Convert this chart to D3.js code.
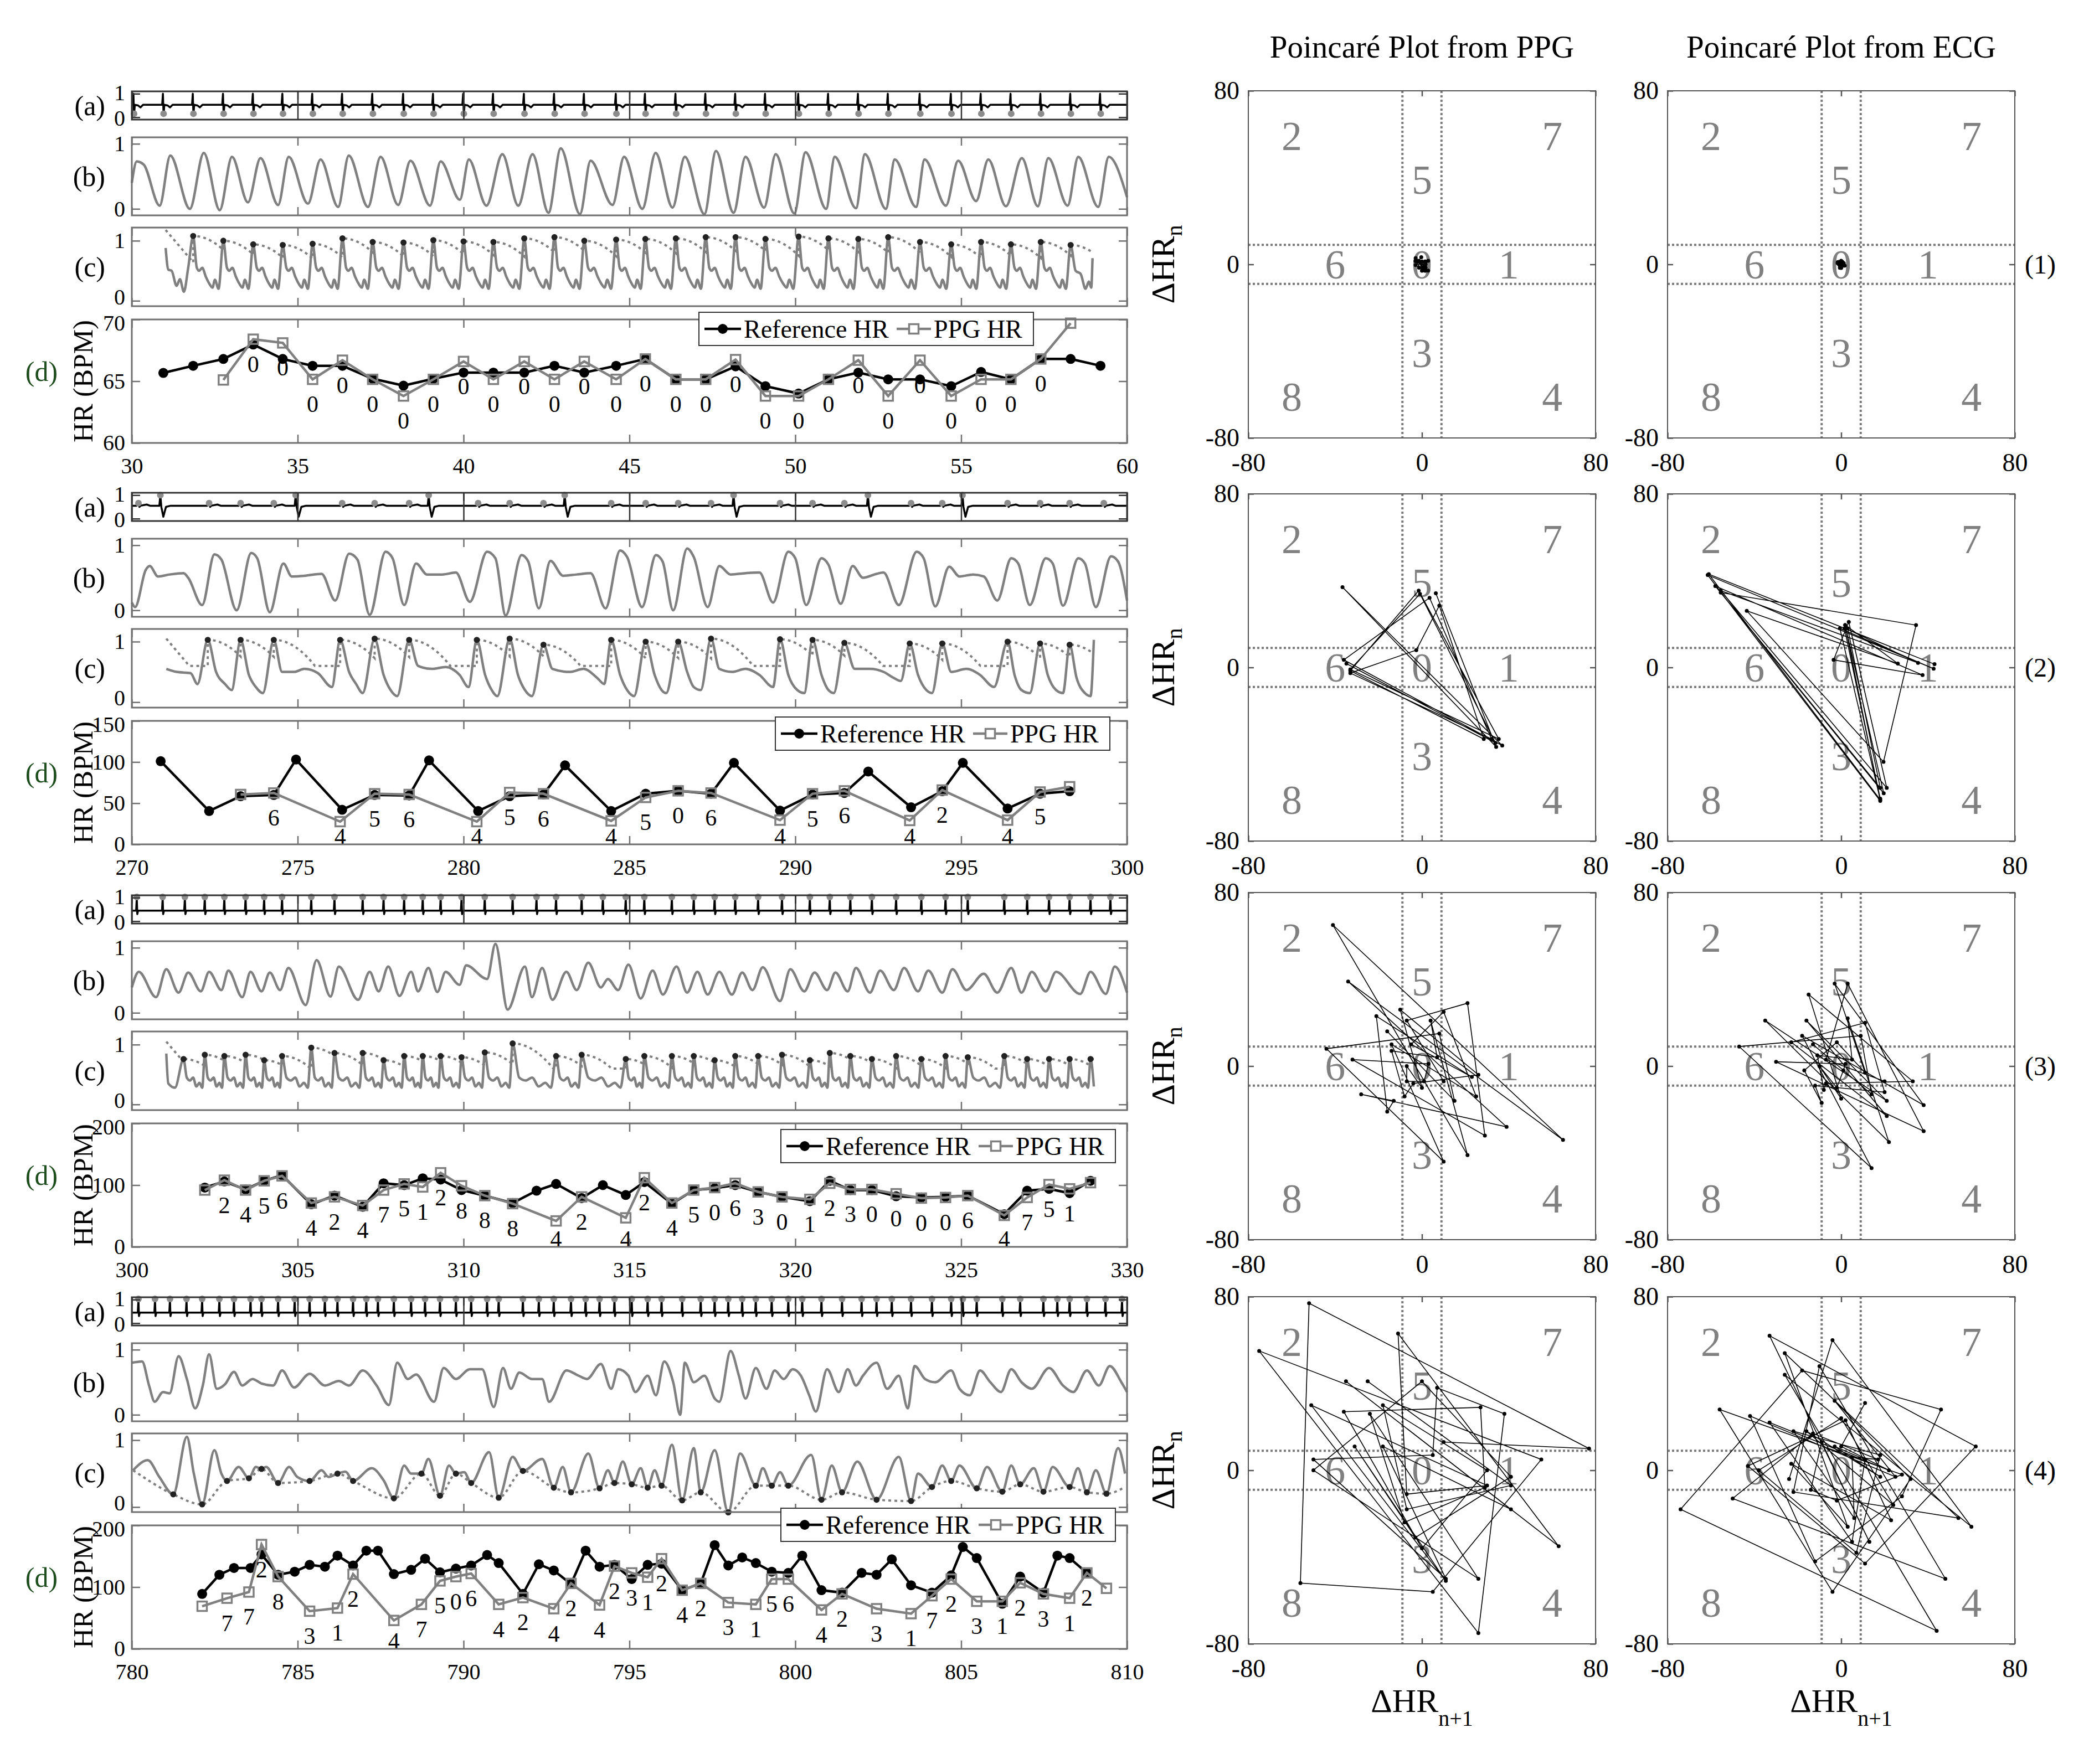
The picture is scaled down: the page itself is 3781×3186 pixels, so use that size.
<!DOCTYPE html>
<html>
<head>
<meta charset="utf-8">
<title>PPG / ECG heart rate and Poincaré plots</title>
<script src="https://cdn.jsdelivr.net/npm/d3@7/dist/d3.min.js"></script>
<style>
  body { margin: 0; background: #fff; }
  text, .tick text { font-family: "Liberation Serif", "Times New Roman", serif; }
</style>
</head>
<body>
<svg id="chart" width="3781" height="3186"></svg>
<script>
// ---------------- axes data ----------------
const timeDom = [[30, 60], [270, 300], [300, 330], [780, 810]];
const timeTicks = [[30, 35, 40, 45, 50, 55, 60], [270, 275, 280, 285, 290, 295, 300],
                   [300, 305, 310, 315, 320, 325, 330], [780, 785, 790, 795, 800, 805, 810]];
const hrDom = [[60, 70], [0, 150], [0, 200], [0, 200]];
const hrTicks = [[60, 65, 70], [0, 50, 100, 150], [0, 100, 200], [0, 100, 200]];
const unitTicks = [0, 1];
const deltaTicks = [-80, 0, 80];
const regionNames = ['2', '7', '5', '6', '0', '1', '3', '8', '4'];
const regionPos = [[-60, 59], [60, 59], [0, 39], [-40, 0], [0, 0], [40, 0], [0, -41], [-60, -61], [60, -61]];
const zoneBand = 9;

// ---------------- segment (1): 30-60 s ----------------
const refT1 = [30.95, 31.85, 32.76, 33.66, 34.55, 35.45, 36.35, 37.26, 38.19, 39.09, 40.0, 40.9, 41.83, 42.74, 43.64, 44.6,
  45.48, 46.4, 47.3, 48.2, 49.1, 50.1, 51.0, 51.9, 52.8, 53.76, 54.7, 55.6, 56.5, 57.4, 58.3, 59.2];
const refHR1 = [65.67, 66.25, 66.8, 67.97, 66.8, 66.25, 66.25, 65.2, 64.64, 65.2, 65.7, 65.7, 65.7, 66.25, 65.7, 66.25,
  66.8, 65.15, 65.15, 66.2, 64.6, 64.0, 65.15, 65.7, 65.15, 65.15, 64.6, 65.75, 65.15, 66.8, 66.8, 66.25];
const ppgT1 = [32.76, 33.66, 34.55, 35.45, 36.35, 37.26, 38.19, 39.09, 40.0, 40.9, 41.83, 42.74, 43.64, 44.6, 45.48, 46.4,
  47.3, 48.2, 49.1, 50.1, 51.0, 51.9, 52.8, 53.76, 54.7, 55.6, 56.5, 57.4, 58.3];
const ppgHR1 = [65.1, 68.4, 68.1, 65.15, 66.7, 65.15, 63.8, 65.15, 66.6, 65.15, 66.6, 65.15, 66.6, 65.15, 66.8, 65.15,
  65.15, 66.75, 63.8, 63.8, 65.15, 66.7, 63.8, 66.7, 63.8, 65.15, 65.15, 66.8, 69.7];
const region1 = ['', '0', '0', '0', '0', '0', '0', '0', '0', '0', '0', '0', '0', '0', '0', '0', '0', '0', '0', '0', '0',
  '0', '0', '0', '0', '0', '0', '0', ''];
const ecgR1 = [30.06].concat(refT1);
const ppgB1 = [[30.0, 0.4], [30.15, 0.73], [30.36, 0.68], [30.84, 0.05], [31.16, 0.82], [31.75, 0.0], [32.17, 0.86],
  [32.65, -0.02], [33.02, 0.8], [33.5, 0.1], [33.88, 0.78], [34.41, 0.06], [34.73, 0.8], [35.31, 0.08], [35.69, 0.76],
  [36.22, 0.03], [36.54, 0.82], [37.12, 0.03], [37.5, 0.8], [38.03, 0.06], [38.4, 0.74], [38.99, 0.05], [39.31, 0.73],
  [39.89, 0.14], [40.16, 0.76], [40.69, 0.05], [41.17, 0.84], [41.65, 0.05], [42.08, 0.84], [42.56, -0.06], [42.93, 0.93],
  [43.51, -0.08], [43.83, 0.74], [44.49, 0.06], [44.84, 0.8], [45.39, 0.0], [45.79, 0.86], [46.3, 0.02], [46.67, 0.8],
  [47.26, -0.08], [47.61, 0.89], [48.14, -0.06], [48.5, 0.8], [49.06, 0.02], [49.41, 0.84], [49.97, -0.07], [50.31, 0.87],
  [50.93, 0.0], [51.19, 0.8], [51.83, 0.01], [52.1, 0.84], [52.73, 0.0], [53.0, 0.76], [53.64, 0.03], [53.9, 0.76],
  [54.54, 0.05], [54.91, 0.74], [55.45, 0.12], [55.82, 0.76], [56.35, 0.04], [56.83, 0.78], [57.31, 0.04], [57.63, 0.78],
  [58.21, 0.05], [58.53, 0.8], [59.13, 0.03], [59.45, 0.8], [60.0, 0.18]];
const cPk1 = [1.08, 1.0, 0.94, 0.93, 0.95, 1.04, 0.98, 0.97, 1.01, 0.99, 0.98, 1.04, 1.06, 1.0, 1.02, 1.03, 1.04, 1.06,
  1.06, 1.03, 1.07, 1.04, 1.03, 1.06, 0.98, 0.94, 0.98, 0.94, 0.98, 0.93];
const cShape1 = [[0.12, 0.55], [0.2, 0.5], [0.3, 0.55], [0.42, 0.4], [0.54, 0.28], [0.64, 0.22], [0.72, 0.35], [0.84, 0.2]];
const cLead1 = [[31.02, 0.88], [31.1, 0.52], [31.2, 0.5], [31.35, 0.25], [31.45, 0.36], [31.57, 0.15], [31.7, 0.55]];
const cTail1 = [[58.45, 0.5], [58.6, 0.45], [58.75, 0.2], [58.85, 0.32], [58.92, 0.22], [58.96, 0.71]];

// ---------------- segment (2): 270-300 s ----------------
const refT2 = [270.87, 272.33, 273.28, 274.28, 274.95, 276.34, 277.32, 278.36, 278.96, 280.44, 281.39, 282.41, 283.06,
  284.45, 285.49, 286.47, 287.46, 288.15, 289.54, 290.52, 291.48, 292.2, 293.49, 294.43, 295.05, 296.4, 297.38, 298.27];
const refHR2 = [101, 40.5, 58.5, 60, 103, 42, 60, 59.4, 102, 40.5, 58.5, 60.6, 96, 40.5, 61.5, 65, 61.5, 99, 41, 60.6,
  62.4, 88.5, 45, 64.5, 99, 43.5, 61.5, 64.5];
const ppgT2 = [273.28, 274.28, 276.28, 277.32, 278.36, 280.4, 281.39, 282.41, 284.45, 285.49, 286.47, 287.46, 289.54,
  290.52, 291.48, 293.45, 294.43, 296.4, 297.38, 298.27];
const ppgHR2 = [60.6, 62.4, 27.6, 61.5, 60.6, 27.6, 63, 61.5, 28.5, 57, 65, 62.4, 29.4, 61.5, 65, 29, 66, 29.4, 63.6, 70];
const region2 = ['', '6', '4', '5', '6', '4', '5', '6', '4', '5', '0', '6', '4', '5', '6', '4', '2', '4', '5', ''];
const ecgR2 = [270.2].concat(refT2, [299.3]);
const ecgTall2 = [270.87, 274.95, 278.96, 283.06, 288.15, 292.2, 295.05];
const ppgB2 = [[270.0, 0.12], [270.1, 0.05], [270.42, 0.62], [270.54, 0.68], [270.79, 0.52], [271.14, 0.55], [271.56, 0.57],
  [271.7, 0.5], [272.12, 0.08], [272.49, 0.86], [272.7, 0.78], [273.16, 0.0], [273.6, 0.88], [273.78, 0.8], [274.16, -0.03],
  [274.57, 0.72], [274.82, 0.52], [275.2, 0.53], [275.72, 0.56], [276.13, 0.15], [276.55, 0.87], [276.8, 0.78],
  [277.17, -0.07], [277.65, 0.9], [277.86, 0.8], [278.21, 0.08], [278.57, 0.72], [278.9, 0.55], [279.36, 0.55],
  [279.77, 0.58], [280.19, 0.13], [280.71, 0.9], [280.96, 0.8], [281.27, -0.08], [281.75, 0.85], [281.95, 0.75],
  [282.27, 0.03], [282.62, 0.76], [283.0, 0.53], [283.41, 0.55], [283.83, 0.57], [284.28, 0.03], [284.72, 0.92],
  [284.93, 0.82], [285.38, 0.05], [285.8, 0.85], [286.0, 0.75], [286.32, 0.0], [286.74, 0.95], [286.94, 0.82],
  [287.36, 0.05], [287.71, 0.68], [288.05, 0.55], [288.5, 0.57], [288.92, 0.58], [289.33, 0.12], [289.79, 0.9],
  [290.0, 0.8], [290.33, 0.08], [290.79, 0.8], [291.0, 0.7], [291.37, 0.1], [291.73, 0.68], [292.04, 0.5], [292.45, 0.56],
  [292.66, 0.58], [293.12, 0.08], [293.66, 0.9], [293.87, 0.8], [294.22, 0.06], [294.64, 0.67], [294.95, 0.52],
  [295.36, 0.55], [295.68, 0.52], [296.09, 0.15], [296.51, 0.8], [296.72, 0.72], [297.07, 0.08], [297.55, 0.8],
  [297.76, 0.72], [298.07, 0.07], [298.53, 0.8], [298.73, 0.72], [299.06, 0.05], [299.52, 0.83], [299.73, 0.75], [300.0, 0.15]];
const cPk2 = [1.03, 1.03, 1.03, 1.03, 1.05, 1.03, 1.03, 1.05, 0.95, 1.03, 1.0, 1.0, 1.05, 1.04, 1.03, 0.98, 0.97, 0.97,
  1.0, 0.97, 0.95];
const cMid2 = [[271.04, 0.55], [271.35, 0.5], [271.77, 0.48], [271.98, 0.3], [272.54, 0.5], [272.81, 0.3], [273.01, 0.2],
  [273.53, 0.45], [273.74, 0.25], [273.95, 0.15], [274.53, 0.5], [274.89, 0.5], [275.2, 0.55], [275.61, 0.48],
  [276.03, 0.25], [276.55, 0.5], [276.76, 0.3], [276.96, 0.15], [277.59, 0.45], [277.8, 0.2], [278.0, 0.1], [278.63, 0.6],
  [279.04, 0.55], [279.46, 0.58], [279.88, 0.45], [280.15, 0.25], [280.65, 0.45], [280.85, 0.2], [281.02, 0.1],
  [281.64, 0.45], [281.85, 0.2], [282.06, 0.1], [282.68, 0.55], [283.2, 0.5], [283.62, 0.55], [284.03, 0.4], [284.24, 0.3],
  [284.72, 0.45], [284.93, 0.2], [285.14, 0.1], [285.76, 0.45], [285.97, 0.2], [286.11, 0.15], [286.74, 0.5],
  [286.94, 0.25], [287.15, 0.2], [287.71, 0.55], [288.09, 0.5], [288.5, 0.55], [288.92, 0.45], [289.33, 0.25],
  [289.79, 0.45], [290.06, 0.2], [290.27, 0.15], [290.79, 0.45], [291.0, 0.2], [291.16, 0.15], [291.79, 0.55],
  [292.25, 0.55], [292.66, 0.5], [292.97, 0.4], [293.18, 0.35], [293.7, 0.45], [293.95, 0.2], [294.12, 0.15],
  [294.7, 0.5], [295.16, 0.55], [295.57, 0.45], [295.99, 0.25], [296.61, 0.45], [296.82, 0.2], [297.07, 0.15],
  [297.61, 0.45], [297.86, 0.2], [298.07, 0.15], [298.48, 0.4], [298.73, 0.15], [298.9, 0.1], [299.0, 1.03]];

// ---------------- segment (3): 300-330 s ----------------
const refT3 = [302.2, 302.79, 303.43, 303.99, 304.53, 305.41, 306.11, 306.96, 307.59, 308.21, 308.77, 309.31, 309.94,
  310.64, 311.48, 312.2, 312.79, 313.56, 314.2, 314.89, 315.45, 316.28, 316.94, 317.57, 318.19, 318.88, 319.6, 320.44,
  321.04, 321.66, 322.31, 323.04, 323.8, 324.53, 325.2, 326.3, 326.99, 327.65, 328.27, 328.9];
const refHR3 = [96, 106, 93, 107, 116, 69, 83, 65, 103, 100, 111, 109, 92, 83, 71, 91, 102, 79, 100, 84, 105, 70, 92, 95,
  100, 89, 81, 74, 107, 92, 92, 82, 80, 81, 83, 53, 91, 94, 87, 107];
const ppgT3 = [302.2, 302.79, 303.43, 303.99, 304.53, 305.41, 306.11, 306.96, 307.59, 308.21, 308.77, 309.31, 309.94,
  310.64, 311.48, 312.79, 313.56, 314.89, 315.45, 316.28, 316.94, 317.57, 318.19, 318.88, 319.6, 320.44, 321.04, 321.66,
  322.31, 323.04, 323.8, 324.53, 325.2, 326.3, 326.99, 327.65, 328.27, 328.9];
const ppgHR3 = [92, 108, 92, 107, 115, 71, 81, 67, 92, 102, 97, 120, 99, 83, 70, 42, 81, 47, 112, 71, 92, 96, 103, 89, 81,
  77, 103, 93, 93, 86, 79, 80, 83, 51, 80, 101, 94, 104];
const region3 = ['', '2', '4', '5', '6', '4', '2', '4', '7', '5', '1', '2', '8', '8', '8', '4', '2', '4', '2', '4', '5',
  '0', '6', '3', '0', '1', '2', '3', '0', '0', '0', '0', '6', '4', '7', '5', '1', ''];
const ecgR3 = [300.15, 300.93, 301.6].concat(refT3, [329.5]);
const ppgB3 = [[300.0, 0.39], [300.21, 0.63], [300.73, 0.24], [301.04, 0.67], [301.41, 0.31], [301.7, 0.62], [302.08, 0.33],
  [302.33, 0.63], [302.7, 0.35], [302.91, 0.65], [303.33, 0.24], [303.58, 0.63], [303.91, 0.33], [304.16, 0.62],
  [304.47, 0.35], [304.72, 0.69], [305.24, 0.12], [305.57, 0.81], [305.99, 0.25], [306.24, 0.71], [306.82, 0.2],
  [307.17, 0.63], [307.44, 0.33], [307.73, 0.71], [308.07, 0.26], [308.42, 0.63], [308.63, 0.33], [308.94, 0.69],
  [309.21, 0.32], [309.46, 0.63], [309.88, 0.43], [310.08, 0.73], [310.71, 0.52], [310.96, 1.06], [311.33, 0.05],
  [311.85, 0.71], [312.06, 0.24], [312.37, 0.69], [312.68, 0.2], [313.1, 0.63], [313.41, 0.35], [313.76, 0.77],
  [314.14, 0.39], [314.35, 0.52], [314.66, 0.35], [314.97, 0.74], [315.34, 0.22], [315.7, 0.65], [316.01, 0.28],
  [316.42, 0.71], [316.74, 0.31], [317.05, 0.63], [317.36, 0.28], [317.71, 0.63], [318.09, 0.28], [318.4, 0.62],
  [318.71, 0.35], [319.02, 0.7], [319.54, 0.18], [319.85, 0.67], [320.27, 0.33], [320.58, 0.62], [320.96, 0.35],
  [321.21, 0.62], [321.58, 0.33], [321.83, 0.69], [322.25, 0.31], [322.56, 0.65], [322.97, 0.35], [323.28, 0.69],
  [323.7, 0.33], [324.01, 0.65], [324.43, 0.31], [324.74, 0.67], [325.16, 0.35], [325.68, 0.6], [326.09, 0.31],
  [326.51, 0.69], [326.82, 0.31], [327.13, 0.63], [327.55, 0.33], [327.86, 0.63], [328.59, 0.29], [328.9, 0.63],
  [329.36, 0.29], [329.63, 0.71], [330.0, 0.31]];
const cPk3 = [0.76, 0.83, 0.81, 0.83, 0.74, 0.81, 0.95, 0.86, 0.86, 0.74, 0.81, 0.81, 0.81, 0.79, 0.87, 1.02, 0.81, 0.83,
  0.76, 0.81, 0.81, 0.81, 0.74, 0.81, 0.81, 0.83, 0.74, 0.86, 0.81, 0.76, 0.81, 0.76, 0.81, 0.79, 0.81, 0.76, 0.76, 0.76, 0.76];
const cShape3 = [[0.15, 0.45], [0.3, 0.4], [0.45, 0.45], [0.6, 0.3], [0.75, 0.36], [0.88, 0.28]];
const cLead3 = [[301.04, 0.85], [301.1, 0.35], [301.3, 0.28]];
const cTail3 = [[329.0, 0.3]];

// ---------------- segment (4): 780-810 s ----------------
const refT4 = [782.12, 782.64, 783.08, 783.58, 783.91, 784.41, 784.91, 785.36, 785.82, 786.2, 786.67, 787.07, 787.42,
  787.9, 788.42, 788.84, 789.29, 789.77, 790.23, 790.71, 791.06, 791.79, 792.27, 792.72, 793.24, 793.68, 794.1, 794.55,
  795.07, 795.55, 795.97, 796.59, 797.15, 797.57, 797.98, 798.4, 798.81, 799.29, 799.79, 800.21, 800.79, 801.41, 802.0,
  802.45, 802.91, 803.49, 804.12, 804.7, 805.05, 805.47, 806.24, 806.78, 807.48, 807.9, 808.27, 808.79];
const refHR4 = [89, 120, 131, 131, 153, 120, 125, 136, 133, 151, 135, 159, 159, 121, 128, 146, 124, 130, 135, 152, 139, 89,
  137, 127, 105, 159, 133, 136, 113, 136, 138, 95, 106, 168, 135, 148, 139, 125, 123, 151, 95, 91, 123, 120, 145, 103, 91,
  119, 165, 147, 73, 117, 91, 151, 147, 123];
const ppgT4 = [782.12, 782.87, 783.53, 783.91, 784.41, 785.36, 786.2, 786.67, 787.9, 788.73, 789.29, 789.77, 790.23,
  791.06, 791.79, 792.72, 793.24, 794.1, 794.55, 795.07, 795.55, 795.97, 796.59, 797.15, 797.98, 798.81, 799.29, 799.79,
  800.79, 801.41, 802.45, 803.49, 804.12, 804.7, 805.47, 806.24, 806.78, 807.48, 808.27, 808.79, 809.38];
const ppgHR4 = [69, 82, 92, 169, 117, 61, 66, 121, 46, 72, 110, 117, 122, 72, 83, 65, 106, 71, 134, 123, 116, 146, 95, 106,
  75, 72, 113, 113, 63, 89, 65, 57, 86, 113, 77, 77, 107, 89, 82, 123, 98];
const region4 = ['', '7', '7', '2', '8', '3', '1', '2', '4', '7', '5', '0', '6', '4', '2', '4', '2', '4', '2', '3', '1',
  '2', '4', '2', '3', '1', '5', '6', '4', '2', '3', '1', '7', '2', '3', '1', '2', '3', '1', '2', ''];
const ecgR4 = [780.2, 780.7, 781.15, 781.65].concat(refT4, [809.35, 809.85]);
const ppgB4 = [[780.0, 0.8], [780.31, 0.82], [780.52, 0.45], [780.69, 0.2], [780.94, 0.35], [781.14, 0.33], [781.41, 0.9],
  [781.66, 0.55], [781.91, 0.1], [782.14, 0.45], [782.33, 0.93], [782.56, 0.4], [782.81, 0.47], [783.08, 0.66],
  [783.33, 0.45], [783.64, 0.55], [783.91, 0.48], [784.26, 0.45], [784.53, 0.68], [784.89, 0.42], [785.36, 0.63],
  [785.82, 0.45], [786.24, 0.52], [786.55, 0.45], [786.96, 0.68], [787.38, 0.45], [787.75, 0.15], [788.0, 0.8],
  [788.32, 0.55], [788.57, 0.62], [789.11, 0.2], [789.4, 0.72], [789.77, 0.55], [790.19, 0.7], [790.56, 0.7],
  [790.91, 0.12], [791.19, 0.72], [791.43, 0.4], [791.68, 0.65], [792.06, 0.55], [792.37, 0.55], [792.58, 0.2],
  [793.1, 0.68], [793.47, 0.6], [793.72, 0.55], [794.14, 0.78], [794.45, 0.4], [794.66, 0.7], [794.97, 0.6],
  [795.18, 0.35], [795.55, 0.6], [795.8, 0.3], [796.05, 0.82], [796.32, 0.5], [796.53, 0.0], [796.67, 0.8], [796.94, 0.5],
  [797.26, 0.6], [797.57, 0.25], [797.71, 0.2], [798.05, 0.98], [798.3, 0.6], [798.5, 0.25], [798.81, 0.72],
  [799.13, 0.4], [799.38, 0.68], [799.65, 0.55], [799.92, 0.7], [800.17, 0.6], [800.42, 0.3], [800.62, 0.05],
  [800.96, 0.7], [801.31, 0.35], [801.58, 0.7], [801.83, 0.45], [802.04, 0.6], [802.45, 0.8], [802.77, 0.4],
  [803.12, 0.6], [803.39, 0.1], [803.6, 0.75], [803.91, 0.55], [804.22, 0.5], [804.7, 0.68], [804.95, 0.4],
  [805.26, 0.3], [805.57, 0.68], [805.88, 0.5], [806.2, 0.35], [806.51, 0.7], [806.82, 0.5], [807.13, 0.4],
  [807.65, 0.72], [808.07, 0.45], [808.38, 0.35], [808.79, 0.68], [809.15, 0.45], [809.48, 0.75], [809.83, 0.5], [810.0, 0.35]];
const cDot4 = [0.19, 0.04, 0.39, 0.43, 0.57, 0.36, 0.39, 0.5, 0.39, 0.13, 0.5, 0.17, 0.5, 0.36, 0.14, 0.54, 0.29, 0.22,
  0.28, 0.36, 0.34, 0.29, 0.32, 0.1, 0.22, -0.08, 0.32, 0.32, 0.32, 0.11, 0.22, 0.11, 0.09, 0.3, 0.39, 0.28, 0.23, 0.34,
  0.23, 0.3, 0.22, 0.2];
const cMid4 = [[780.04, 0.55], [780.48, 0.7], [780.83, 0.45], [781.66, 1.05], [781.87, 0.5], [782.49, 0.85], [782.7, 0.5],
  [783.22, 0.6], [783.74, 0.6], [784.05, 0.6], [784.74, 0.6], [784.99, 0.45], [785.72, 0.55], [785.93, 0.45],
  [786.44, 0.53], [787.23, 0.58], [787.59, 0.4], [788.21, 0.62], [788.42, 0.5], [788.94, 0.72], [789.56, 0.62],
  [790.02, 0.52], [790.77, 0.82], [791.48, 0.75], [792.37, 0.72], [792.99, 0.6], [793.76, 0.8], [794.35, 0.55],
  [794.8, 0.68], [795.34, 0.58], [795.76, 0.55], [796.28, 0.93], [796.94, 0.88], [797.57, 0.85], [798.34, 0.8],
  [799.02, 0.58], [799.54, 0.52], [800.48, 0.78], [801.1, 0.62], [801.87, 0.68], [803.12, 0.75], [803.7, 0.5],
  [804.43, 0.62], [804.95, 0.62], [805.78, 0.6], [806.51, 0.62], [807.19, 0.58], [807.76, 0.6], [808.52, 0.58],
  [809.06, 0.55], [809.73, 0.88], [809.94, 0.5]];

// first detected beat of each processed PPG trace, and where its dotted threshold starts / ends
const cFirstBeat = [31.85, 272.29, 301.56, 781.25];
const envStart = [[31.02, 1.18], [271.04, 1.05], [301.04, 1.05], [780.04, 0.55]];
const envEnd = [58.96, 299.0, 329.0, 809.94];

// ---------------- layout / style ----------------
const svg = d3.select('#chart');
const GREY = '#808080', AX = '#707070';
const X0 = 238, X1 = 2035;
const groupTop = [165, 890, 1617, 2343];
const panelBox = { a: [0, 51], b: [83, 224], c: [246, 388], d: [412, 635] };
const legendPos = [[1262, 564], [1400, 1295], [1410, 2040], [1410, 2724]];
const pX = [2254, 3011], pTop = [164, 892, 1612, 2342], pS = 627;

// ECG beat shapes (time offset from R peak, normalised amplitude)
const ecgShape = {
  down: [[-0.035, 0.53], [-0.012, 1.0], [0.008, 0.06], [0.03, 0.53], [0.13, 0.5], [0.2, 0.42], [0.28, 0.53]],
  tall: [[-0.04, 0.55], [-0.01, 1.0], [0.02, 0.5], [0.08, 0.08], [0.16, 0.5], [0.3, 0.55]],
  small: [[-0.06, 0.55], [-0.02, 0.62], [0, 0.66], [0.03, 0.5], [0.06, 0.55], [0.25, 0.6], [0.35, 0.55]],
  up: [[-0.02, 0.45], [0, 1.0], [0.015, 0.3], [0.04, 0.45]]
};
const ecgMark = { down: [0.008, 0.15], tall: [-0.01, 1.0], small: [0, 0.66], up: [0, 1.03] };
const ecgBase = [0.53, 0.55, 0.45, 0.45];

const groups = [
  { ecgR: ecgR1, kind: () => 'down', ppgB: ppgB1, refT: refT1, refHR: refHR1, ppgT: ppgT1, ppgHR: ppgHR1, region: region1,
    cT: [cFirstBeat[0]].concat(ppgT1), cV: cPk1, shape: cShape1, lead: cLead1, tail: cTail1, cDom: [-0.09, 1.22] },
  { ecgR: ecgR2, kind: r => ecgTall2.includes(r) ? 'tall' : 'small', ppgB: ppgB2, refT: refT2, refHR: refHR2, ppgT: ppgT2,
    ppgHR: ppgHR2, region: region2, cT: [cFirstBeat[1]].concat(ppgT2), cV: cPk2, mid: cMid2, cDom: [-0.09, 1.21] },
  { ecgR: ecgR3, kind: () => 'up', ppgB: ppgB3, refT: refT3, refHR: refHR3, ppgT: ppgT3, ppgHR: ppgHR3, region: region3,
    cT: [cFirstBeat[2]].concat(ppgT3), cV: cPk3, shape: cShape3, lead: cLead3, tail: cTail3, cDom: [-0.095, 1.22] },
  { ecgR: ecgR4, kind: () => 'up', ppgB: ppgB4, refT: refT4, refHR: refHR4, ppgT: ppgT4, ppgHR: ppgHR4, region: region4,
    cT: [cFirstBeat[3]].concat(ppgT4), cV: cDot4, mid: cMid4, lower: true, cDom: [-0.075, 1.1] }
];

function addAxes(x, y, xt, yt, o) {
  const [b, t] = y.range(), [l, r] = x.range();
  const g = svg.append('g');
  g.append('g').attr('transform', `translate(0,${b})`)
    .call(d3.axisBottom(x).tickValues(xt).tickSize(-(o.fullX ? b - t : o.tl)).tickPadding(o.xpad || 27)
      .tickFormat(o.xlab ? (d => String(d)) : () => ''));
  g.append('g').attr('transform', `translate(0,${t})`)
    .call(d3.axisTop(x).tickValues(xt).tickSize(-o.tl).tickFormat(() => ''));
  const left = g.append('g').attr('transform', `translate(${l},0)`)
    .call(d3.axisLeft(y).tickValues(yt).tickSize(-o.tl).tickPadding(o.pad || 12).tickFormat(d => String(d)));
  // nudge the end labels a little so neighbouring panels' labels do not collide
  left.selectAll('.tick text')
    .attr('y', d => d === yt[0] ? (o.lowDy || 0) : d === yt[yt.length - 1] ? (o.topDy || 0) : 0);
  g.append('g').attr('transform', `translate(${r},0)`)
    .call(d3.axisRight(y).tickValues(yt).tickSize(-o.tl).tickFormat(() => ''));
  g.selectAll('.domain').remove();
  g.selectAll('.tick line').attr('stroke', o.stroke || AX).attr('stroke-width', 2.5);
  g.selectAll('.tick text').attr('fill', '#000').style('font-size', o.fs + 'px');
  g.append('rect').attr('x', l).attr('y', t).attr('width', r - l).attr('height', b - t)
    .attr('fill', 'none').attr('stroke', o.stroke || AX).attr('stroke-width', o.bw || 3);
}

const lineOf = (x, y, curve) => d3.line().x(d => x(d[0])).y(d => y(d[1])).curve(curve || d3.curveLinear);

function upperEnvelope(start, T, P, tEnd) {
  const pts = [];
  let ta = start[0], va = start[1], first = true;
  const val = t => first ? Math.max(0.6, va - 0.65 * (t - ta)) : Math.max(0.6, va - 0.28 * (t - ta) ** 2);
  const stops = T.map((t, i) => [t, P[i]]).filter(d => d[0] > ta).concat([[tEnd, null]]);
  stops.forEach(([tb, vb]) => {
    for (let t = ta; t < tb; t += 0.02) pts.push([t, val(t)]);
    pts.push([tb, val(tb)]);
    if (vb !== null) { pts.push([tb, vb]); ta = tb; va = vb; first = false; }
  });
  return pts;
}

groups.forEach((G, gi) => {
  const top = groupTop[gi], dom = timeDom[gi];
  const x = d3.scaleLinear().domain(dom).range([X0, X1]);
  const yOf = (k, d) => d3.scaleLinear().domain(d).range([top + panelBox[k][1], top + panelBox[k][0]]);

  // (a) ECG
  const yA = yOf('a', [-0.1, 1.1]);
  const ecg = [[dom[0], ecgBase[gi]]];
  G.ecgR.forEach(r => ecgShape[G.kind(r)].forEach(([dt, v]) => ecg.push([r + dt, v])));
  ecg.push([dom[1], ecgBase[gi]]);
  svg.append('path').attr('d', lineOf(x, yA)(ecg.filter(p => p[0] >= dom[0] && p[0] <= dom[1])))
    .attr('fill', 'none').attr('stroke', '#000').attr('stroke-width', 3.5).attr('stroke-linejoin', 'round');
  svg.append('g').selectAll('circle').data(G.ecgR.map(r => { const m = ecgMark[G.kind(r)]; return [r + m[0], m[1]]; })
    .filter(p => p[0] > dom[0] && p[0] < dom[1]))
    .join('circle').attr('cx', d => x(d[0])).attr('cy', d => yA(d[1])).attr('r', 6).attr('fill', '#8c8c8c');
  addAxes(x, yA, timeTicks[gi], unitTicks, { tl: 15, fs: 40, fullX: true, stroke: '#333', lowDy: 2, topDy: -2 });

  // (b) raw PPG
  const yB = yOf('b', [-0.1, 1.1]);
  svg.append('path').attr('d', lineOf(x, yB, d3.curveMonotoneX)(G.ppgB))
    .attr('fill', 'none').attr('stroke', GREY).attr('stroke-width', 4.5);
  addAxes(x, yB, timeTicks[gi], unitTicks, { tl: 15, fs: 40 });

  // (c) processed PPG with detection threshold
  const yC = yOf('c', G.cDom);
  const dots = G.cT.map((t, i) => [t, G.cV[i]]);
  let sig;
  if (G.mid) {
    sig = G.mid.concat(dots).sort((p, q) => p[0] - q[0]);
  } else {
    sig = G.lead.slice();
    dots.forEach((p, i) => {
      sig.push(p);
      if (i < dots.length - 1) {
        const dt = dots[i + 1][0] - p[0];
        G.shape.forEach(([f, v]) => sig.push([p[0] + f * dt, v]));
      }
    });
    sig = sig.concat(G.tail);
  }
  const env = G.lower
    ? [envStart[gi]].concat(dots, [[envEnd[gi], dots[dots.length - 1][1] + 0.1]])
    : upperEnvelope(envStart[gi], G.cT, G.cV, envEnd[gi]);
  svg.append('path').attr('d', lineOf(x, yC, G.lower ? d3.curveMonotoneX : d3.curveLinear)(env))
    .attr('fill', 'none').attr('stroke', GREY).attr('stroke-width', 4).attr('stroke-dasharray', '5,6');
  svg.append('path').attr('d', lineOf(x, yC, d3.curveMonotoneX)(sig))
    .attr('fill', 'none').attr('stroke', GREY).attr('stroke-width', 4.5);
  svg.append('g').selectAll('circle').data(dots).join('circle')
    .attr('cx', d => x(d[0])).attr('cy', d => yC(d[1])).attr('r', 5.5).attr('fill', '#222');
  addAxes(x, yC, timeTicks[gi], unitTicks, { tl: 15, fs: 40, lowDy: -7 });

  // (d) heart rate
  const yD = yOf('d', hrDom[gi]);
  const ref = G.refT.map((t, i) => [t, G.refHR[i]]);
  const ppg = G.ppgT.map((t, i) => [t, G.ppgHR[i]]);
  svg.append('path').attr('d', lineOf(x, yD)(ref)).attr('fill', 'none').attr('stroke', '#000').attr('stroke-width', 4.5);
  svg.append('g').selectAll('circle').data(ref).join('circle')
    .attr('cx', d => x(d[0])).attr('cy', d => yD(d[1])).attr('r', 9).attr('fill', '#000');
  svg.append('path').attr('d', lineOf(x, yD)(ppg)).attr('fill', 'none').attr('stroke', GREY).attr('stroke-width', 4.5);
  svg.append('g').selectAll('rect').data(ppg).join('rect')
    .attr('x', d => x(d[0]) - 8.5).attr('y', d => yD(d[1]) - 8.5).attr('width', 17).attr('height', 17)
    .attr('fill', 'none').attr('stroke', GREY).attr('stroke-width', 3.5);
  const bottom = top + panelBox.d[1];
  svg.append('g').selectAll('text').data(ppg.map((p, i) => [p, G.region[i]]).filter(d => d[1] !== '')).join('text')
    .attr('x', d => x(d[0][0])).attr('y', d => Math.min(yD(d[0][1]) + 45, bottom - 14))
    .attr('text-anchor', 'middle').attr('dominant-baseline', 'central').attr('font-size', 42).text(d => d[1]);
  addAxes(x, yD, timeTicks[gi], hrTicks[gi], { tl: 15, fs: 40, xlab: true, topDy: 7 });

  // legend
  const [lx, ly] = legendPos[gi], lc = ly + 30;
  const lg = svg.append('g');
  lg.append('rect').attr('x', lx).attr('y', ly).attr('width', 604).attr('height', 60)
    .attr('fill', '#fff').attr('stroke', '#333').attr('stroke-width', 2);
  lg.append('line').attr('x1', lx + 10).attr('x2', lx + 76).attr('y1', lc).attr('y2', lc).attr('stroke', '#000').attr('stroke-width', 4.5);
  lg.append('circle').attr('cx', lx + 43).attr('cy', lc).attr('r', 9).attr('fill', '#000');
  lg.append('text').attr('x', lx + 81).attr('y', lc).attr('dominant-baseline', 'central').attr('font-size', 46).text('Reference HR');
  lg.append('line').attr('x1', lx + 357).attr('x2', lx + 419).attr('y1', lc).attr('y2', lc).attr('stroke', GREY).attr('stroke-width', 4.5);
  lg.append('rect').attr('x', lx + 379.5).attr('y', lc - 8.5).attr('width', 17).attr('height', 17)
    .attr('fill', '#fff').attr('stroke', GREY).attr('stroke-width', 3.5);
  lg.append('text').attr('x', lx + 424).attr('y', lc).attr('dominant-baseline', 'central').attr('font-size', 46).text('PPG HR');

  // panel letters and y label
  ['a', 'b', 'c'].forEach(k => {
    svg.append('text').attr('x', 190).attr('y', top + (panelBox[k][0] + panelBox[k][1]) / 2)
      .attr('text-anchor', 'end').attr('dominant-baseline', 'central').attr('font-size', 50).text(`(${k})`);
  });
  const dMid = top + (panelBox.d[0] + panelBox.d[1]) / 2;
  svg.append('text').attr('x', 75).attr('y', dMid - 18).attr('text-anchor', 'middle').attr('dominant-baseline', 'central')
    .attr('font-size', 50).attr('fill', '#1e4d1e').text('(d)');
  svg.append('text').attr('transform', `translate(150,${dMid}) rotate(-90)`).attr('text-anchor', 'middle')
    .attr('dominant-baseline', 'central').attr('font-size', 50).text('HR (BPM)');
});

// ---------------- Poincaré plots ----------------
const hrSeries = [[ppgHR1, refHR1], [ppgHR2, refHR2], [ppgHR3, refHR3], [ppgHR4, refHR4]];
hrSeries.forEach((pair, row) => {
  pair.forEach((hr, col) => {
    const x0 = pX[col], y0 = pTop[row];
    const x = d3.scaleLinear().domain([-80, 80]).range([x0, x0 + pS]);
    const y = d3.scaleLinear().domain([-80, 80]).range([y0 + pS, y0]);
    const g = svg.append('g');
    [-zoneBand, zoneBand].forEach(v => {
      g.append('line').attr('x1', x(v)).attr('x2', x(v)).attr('y1', y0).attr('y2', y0 + pS)
        .attr('stroke', '#7a7a7a').attr('stroke-width', 4).attr('stroke-dasharray', '4,4');
      g.append('line').attr('x1', x0).attr('x2', x0 + pS).attr('y1', y(v)).attr('y2', y(v))
        .attr('stroke', '#7a7a7a').attr('stroke-width', 4).attr('stroke-dasharray', '4,4');
    });
    g.selectAll('text.zone').data(regionNames).join('text').attr('class', 'zone')
      .attr('x', (d, i) => x(regionPos[i][0])).attr('y', (d, i) => y(regionPos[i][1]))
      .attr('text-anchor', 'middle').attr('dominant-baseline', 'central').attr('font-size', 74).attr('fill', GREY).text(d => d);
    const dHR = d3.pairs(hr, (a, b) => b - a);
    const pts = d3.pairs(dHR, (a, b) => [b, a]);
    g.append('path').attr('d', lineOf(x, y)(pts)).attr('fill', 'none').attr('stroke', '#000').attr('stroke-width', 1.6);
    g.selectAll('circle').data(pts).join('circle').attr('cx', d => x(d[0])).attr('cy', d => y(d[1])).attr('r', 3.5).attr('fill', '#000');
    addAxes(x, y, deltaTicks, deltaTicks, { tl: 10, fs: 46, xlab: true, pad: 16, stroke: '#555', bw: 2 });
  });
  const yc = pTop[row] + pS / 2;
  svg.append('text').attr('x', 3684).attr('y', yc).attr('text-anchor', 'middle').attr('dominant-baseline', 'central')
    .attr('font-size', 48).text(`(${row + 1})`);
  const yl = svg.append('text').attr('transform', `translate(2120,${yc}) rotate(-90)`).attr('text-anchor', 'middle')
    .attr('font-size', 60);
  yl.append('tspan').text('ΔHR');
  yl.append('tspan').attr('font-size', 40).attr('dy', 14).text('n');
});

['Poincaré Plot from PPG', 'Poincaré Plot from ECG'].forEach((t, col) => {
  svg.append('text').attr('x', pX[col] + pS / 2).attr('y', 104).attr('text-anchor', 'middle').attr('font-size', 57).text(t);
  const xl = svg.append('text').attr('x', pX[col] + pS / 2).attr('y', 3092).attr('text-anchor', 'middle').attr('font-size', 60);
  xl.append('tspan').text('ΔHR');
  xl.append('tspan').attr('font-size', 40).attr('dy', 25).text('n+1');
});
</script>
</body>
</html>
